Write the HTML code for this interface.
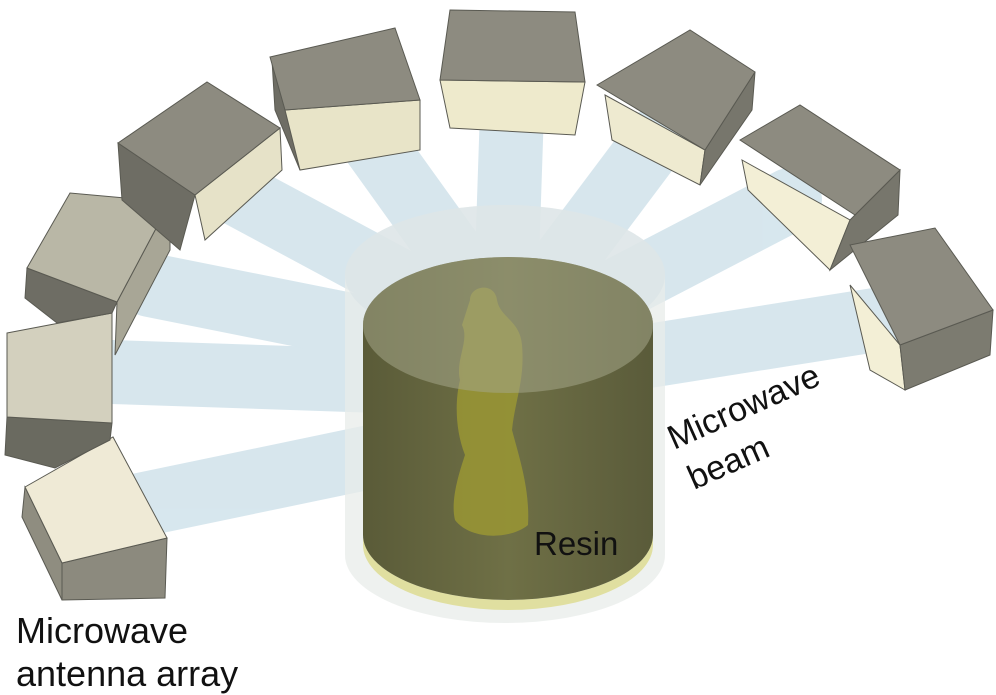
<!DOCTYPE html>
<html><head><style>
html,body{margin:0;padding:0;background:#fff;}
svg{display:block;font-family:"Liberation Sans",sans-serif;}
</style></head><body>
<svg width="996" height="695" viewBox="0 0 996 695">
<defs>
<linearGradient id="cyl" x1="0" x2="1" y1="0" y2="0">
<stop offset="0" stop-color="#5a5b38"/><stop offset="0.5" stop-color="#6f7046"/><stop offset="1" stop-color="#5a5b3a"/>
</linearGradient>
</defs>
<!-- beams -->
<g stroke="#d3e4ec" stroke-width="64" stroke-linecap="round" opacity="0.9" fill="none">
<line x1="140" y1="505" x2="500" y2="430"/>
<line x1="112" y1="372" x2="500" y2="385"/>
<line x1="150" y1="285" x2="500" y2="355"/>
<line x1="230" y1="190" x2="500" y2="335"/>
<line x1="360" y1="125" x2="500" y2="320"/>
<line x1="512" y1="110" x2="505" y2="320"/>
<line x1="655" y1="140" x2="520" y2="320"/>
<line x1="790" y1="200" x2="540" y2="330"/>
<line x1="875" y1="320" x2="560" y2="370"/>
</g>
<!-- outer cylinder -->
<path d="M345,275 A160,70 0 0 1 665,275 L665,555 A160,68 0 0 1 345,555 Z" fill="#e8ecea" opacity="0.75"/>
<ellipse cx="505" cy="275" rx="160" ry="70" fill="#d8e2e6" opacity="0.6"/>
<!-- dark cylinder -->
<path d="M363,535 A145,65 0 0 0 653,535 L653,545 A145,65 0 0 1 363,545Z" fill="#e0dfa0"/>
<path d="M363,325 A145,68 0 0 1 653,325 L653,535 A145,65 0 0 1 363,535 Z" fill="url(#cyl)"/>
<!-- statue -->
<path d="M470,300 C470,285 495,282 497,300 C500,318 520,320 522,345 C525,380 515,400 512,430 C520,460 530,490 528,525 C510,540 470,540 455,520 C450,500 460,470 465,455 C455,430 455,400 460,380 C455,360 470,340 462,325 Z" fill="#9a9634" opacity="0.85"/>
<ellipse cx="508" cy="325" rx="145" ry="68" fill="#a4a688" opacity="0.55"/>
<!-- boxes -->
<g stroke="#5a5a52" stroke-width="1">
<polygon points="25,487 62,563 62,600 22,517" fill="#8f8d80"/>
<polygon points="62,563 167,538 165,598 62,600" fill="#8c8a7e"/>
<polygon points="25,487 113,437 167,538 62,563" fill="#efead6"/>
<polygon points="7,417 112,423 110,440 55,468 5,455" fill="#6a6a60"/>
<polygon points="7,333 112,313 112,423 7,417" fill="#d3d0be"/>
<polygon points="27,268 117,302 112,313 57,323 25,298" fill="#6e6d64"/>
<polygon points="117,302 170,202 170,250 115,355" fill="#a8a696"/>
<polygon points="27,268 70,193 170,202 117,302" fill="#b9b7a6"/>
<polygon points="118,143 195,195 180,250 122,200" fill="#6e6d64"/>
<polygon points="195,195 280,128 282,170 205,240" fill="#e6e2c8"/>
<polygon points="118,143 207,82 280,128 195,195" fill="#8d8b80"/>
<polygon points="272,60 288,110 300,170 275,110" fill="#6e6d64"/>
<polygon points="285,110 420,100 420,150 300,170" fill="#e8e4c8"/>
<polygon points="270,57 395,28 420,100 285,110" fill="#8d8b80"/>
<polygon points="440,80 585,82 575,135 450,128" fill="#eeeacc"/>
<polygon points="450,10 575,12 585,82 440,80" fill="#8d8b80"/>
<polygon points="605,95 705,150 700,185 612,140" fill="#eeead0"/>
<polygon points="705,150 755,72 752,110 700,185" fill="#77766c"/>
<polygon points="597,85 690,30 755,72 705,150" fill="#8d8b80"/>
<polygon points="742,160 850,220 830,270 748,190" fill="#f3efd6"/>
<polygon points="850,220 900,170 898,215 830,270" fill="#77766c"/>
<polygon points="740,140 800,105 900,170 855,215" fill="#8d8b80"/>
<polygon points="850,285 900,345 905,390 870,370" fill="#f3efd6"/>
<polygon points="900,345 993,310 990,355 905,390" fill="#7c7b70"/>
<polygon points="850,245 935,228 993,310 900,345" fill="#8d8b80"/>
</g>
<!-- text -->
<text x="534" y="555" font-size="33" fill="#111">Resin</text>
<text transform="translate(674,450) rotate(-24)" font-size="34" fill="#111">Microwave</text>
<text transform="translate(694,490) rotate(-24)" font-size="34" fill="#111">beam</text>
<text x="16" y="643" font-size="36" fill="#111">Microwave</text>
<text x="16" y="686" font-size="36" fill="#111">antenna array</text>
</svg>
</body></html>
